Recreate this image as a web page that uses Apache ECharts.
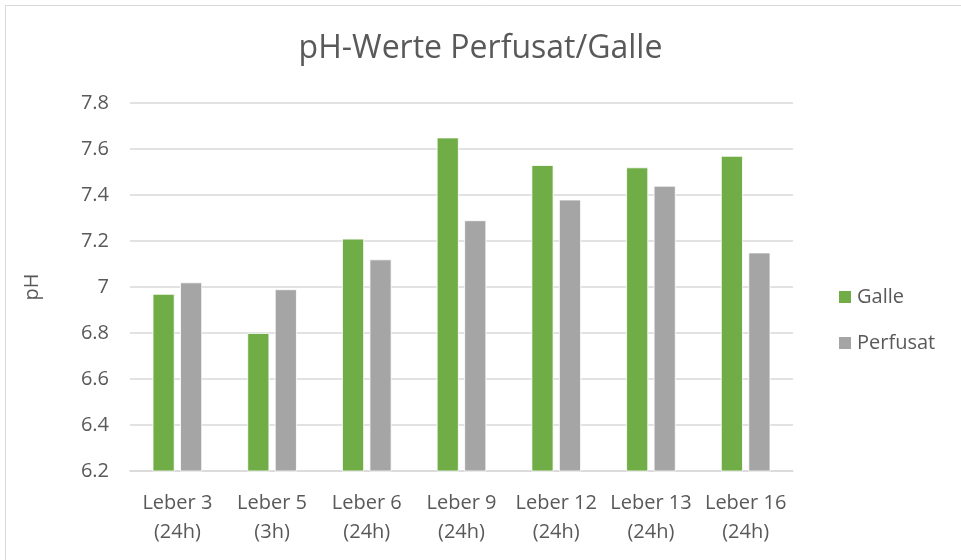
<!DOCTYPE html>
<html>
<head>
<meta charset="utf-8">
<script src="https://cdn.jsdelivr.net/npm/echarts@6/dist/echarts.min.js"></script>
<style>
html,body{margin:0;padding:0;background:#fff;}
#chart{width:961px;height:560px;}
</style>
</head>
<body>
<div id="chart"></div>
<script>
var categories = ['Leber 3\n(24h)', 'Leber 5\n(3h)', 'Leber 6\n(24h)', 'Leber 9\n(24h)', 'Leber 12\n(24h)', 'Leber 13\n(24h)', 'Leber 16\n(24h)'];
var galle = [6.97, 6.80, 7.21, 7.65, 7.53, 7.52, 7.57];
var perfusat = [7.02, 6.99, 7.12, 7.29, 7.38, 7.44, 7.15];
var yTicks = [6.2, 6.4, 6.6, 6.8, 7, 7.2, 7.4, 7.6, 7.8];

var FONT = '"Open Sans", "DejaVu Sans", sans-serif';
var chart = echarts.init(document.getElementById('chart'));
chart.setOption({
  animation: false,
  backgroundColor: '#ffffff',
  title: {
    text: 'pH-Werte Perfusat/Galle',
    left: 'center',
    top: 28,
    textStyle: {fontFamily: FONT, fontSize: 32, fontWeight: 'normal', color: '#595959'}
  },
  graphic: [{
    type: 'rect', left: 3, top: 3, silent: true,
    shape: {width: 1000, height: 1000},
    style: {fill: 'none', stroke: '#d9d9d9', lineWidth: 1}
  }],
  legend: {
    orient: 'vertical',
    left: 832,
    top: 282,
    itemWidth: 14,
    itemHeight: 14,
    itemGap: 26,
    icon: 'rect',
    textStyle: {fontFamily: FONT, fontSize: 20, color: '#595959'},
    data: ['Galle', 'Perfusat']
  },
  grid: {left: 130, right: 168, top: 103, bottom: 89, containLabel: false},
  xAxis: {
    type: 'category',
    data: categories,
    axisLine: {lineStyle: {color: '#d9d9d9', width: 1.5}},
    axisTick: {show: false},
    axisLabel: {fontFamily: FONT, fontSize: 20, color: '#595959', margin: 18, lineHeight: 29, interval: 0}
  },
  yAxis: {
    type: 'value',
    min: 6.2,
    max: 7.8,
    interval: 0.2,
    name: 'pH',
    nameLocation: 'middle',
    nameGap: 88,
    nameTextStyle: {fontFamily: FONT, fontSize: 20, color: '#595959'},
    axisLine: {show: false},
    axisTick: {show: false},
    splitLine: {lineStyle: {color: '#d9d9d9', width: 1.5}},
    axisLabel: {
      fontFamily: FONT, fontSize: 20, color: '#595959', margin: 21,
      formatter: function (v) {
        var r = Math.round(v * 10) / 10;
        for (var i = 0; i < yTicks.length; i++) {
          if (Math.abs(yTicks[i] - r) < 1e-6) return String(yTicks[i]);
        }
        return '';
      }
    }
  },
  series: [
    {name: 'Galle', type: 'bar', data: galle, barWidth: 22, barGap: '25%',
     itemStyle: {color: '#70ad47', borderColor: '#ffffff', borderWidth: 0.8}},
    {name: 'Perfusat', type: 'bar', data: perfusat, barWidth: 22,
     itemStyle: {color: '#a5a5a5', borderColor: '#ffffff', borderWidth: 0.8}}
  ]
});
</script>
</body>
</html>
